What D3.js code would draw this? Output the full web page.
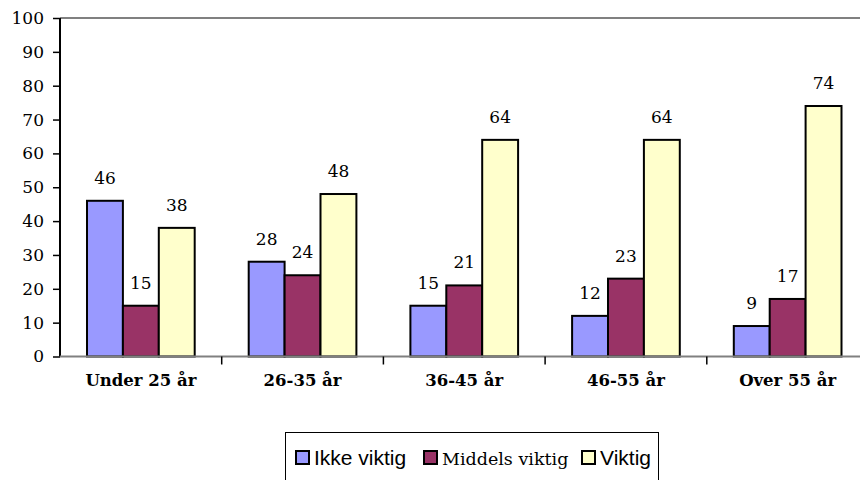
<!DOCTYPE html>
<html>
<head>
<meta charset="utf-8">
<script src="https://cdn.jsdelivr.net/npm/d3@7/dist/d3.min.js"></script>
<style>
  html, body { margin: 0; padding: 0; background: #fff; }
  svg { display: block; }
  .serif { font-family: "DejaVu Serif", "Liberation Serif", "Noto Serif", "Times New Roman", serif; }
  .sans  { font-family: "Liberation Sans", Arial, Helvetica, sans-serif; }
</style>
</head>
<body>
<svg id="chart" width="860" height="480"></svg>
<script>
// Age groups along the x axis
const categories = ["Under 25 år", "26-35 år", "36-45 år", "46-55 år", "Over 55 år"];
// Share (%) per answer, one array per series
const ikkeViktig    = [46, 28, 15, 12, 9];
const middelsViktig = [15, 24, 21, 23, 17];
const viktig        = [38, 48, 64, 64, 74];
const seriesNames   = ["Ikke viktig", "Middels viktig", "Viktig"];
const yTicks        = [0, 10, 20, 30, 40, 50, 60, 70, 80, 90, 100];

const seriesValues = [ikkeViktig, middelsViktig, viktig];
const colors = ["#9999FF", "#993366", "#FFFFCC"];
const legendClass = ["sans", "serif", "sans"];

const svg = d3.select("#chart");
const plotLeft = 60, plotRight = 868.5, plotTop = 18, plotBottom = 356.5;

const x = d3.scaleBand().domain(categories).range([plotLeft, plotRight])
  .paddingInner(0.334).paddingOuter(0.167);
const xs = d3.scaleBand().domain(d3.range(seriesNames.length)).range([0, x.bandwidth()]);
const y = d3.scaleLinear().domain([0, 100]).range([plotBottom, plotTop]);

// Plot frame (top edge)
svg.append("line")
  .attr("x1", plotLeft).attr("x2", 860).attr("y1", plotTop).attr("y2", plotTop)
  .attr("stroke", "#808080").attr("stroke-width", 2);

// Bars
const groups = svg.append("g").selectAll("g")
  .data(categories).join("g")
  .attr("transform", d => `translate(${x(d)},0)`);

groups.selectAll("rect")
  .data((c, i) => seriesValues.map((vals, s) => ({ s, v: vals[i] })))
  .join("rect")
  .attr("x", d => xs(d.s))
  .attr("width", xs.bandwidth())
  .attr("y", d => y(d.v))
  .attr("height", d => y(0) - y(d.v))
  .attr("fill", d => colors[d.s])
  .attr("stroke", "#000")
  .attr("stroke-width", 2);

// Value labels
groups.selectAll("text")
  .data((c, i) => seriesValues.map((vals, s) => ({ s, v: vals[i] })))
  .join("text")
  .attr("class", "serif")
  .attr("x", d => xs(d.s) + xs.bandwidth() / 2)
  .attr("y", d => y(d.v) - 17)
  .attr("text-anchor", "middle")
  .style("font-size", "17px")
  .attr("fill", "#000")
  .text(d => d.v);

// Y axis
const yAxis = svg.append("g")
  .attr("transform", `translate(${plotLeft},0)`)
  .call(d3.axisLeft(y).tickValues(yTicks).tickSize(7).tickPadding(9));
yAxis.attr("font-family", null);
yAxis.select(".domain").attr("stroke", "#000").attr("stroke-width", 2)
  .attr("d", `M0,${plotTop}V${plotBottom}`);
yAxis.selectAll(".tick line").attr("stroke", "#000").attr("stroke-width", 1.5);
yAxis.selectAll("text").attr("class", "serif")
  .style("font-size", "17px").attr("fill", "#000");

// X axis
const xAxis = svg.append("g")
  .attr("transform", `translate(0,${plotBottom})`)
  .call(d3.axisBottom(x).tickSize(0).tickPadding(18));
xAxis.attr("font-family", null);
xAxis.select(".domain").attr("stroke", "#808080").attr("stroke-width", 2)
  .attr("d", `M${plotLeft},0H860`);
xAxis.selectAll("text").attr("class", "serif")
  .style("font-size", "16.5px").style("font-weight", "bold").attr("fill", "#000");

// Category separators
const step = x.step();
svg.append("g").selectAll("line")
  .data(categories.slice(1))
  .join("line")
  .attr("x1", d => x(d) - (step - x.bandwidth()) / 2)
  .attr("x2", d => x(d) - (step - x.bandwidth()) / 2)
  .attr("y1", plotBottom).attr("y2", plotBottom + 8)
  .attr("stroke", "#000").attr("stroke-width", 1.5);

// Legend
const legend = svg.append("g");
legend.append("rect")
  .attr("x", 285.5).attr("y", 432.5).attr("width", 373).attr("height", 70)
  .attr("fill", "#fff").attr("stroke", "#000").attr("stroke-width", 1);
const legendX = [296, 424, 582];
const items = legend.selectAll("g.item")
  .data(seriesNames).join("g").attr("class", "item")
  .attr("transform", (d, i) => `translate(${legendX[i]},451)`);
items.append("rect")
  .attr("width", 13).attr("height", 13)
  .attr("fill", (d, i) => colors[i])
  .attr("stroke", "#000").attr("stroke-width", 2);
items.append("text")
  .attr("class", (d, i) => legendClass[i])
  .attr("x", 18).attr("y", 14)
  .style("font-size", (d, i) => legendClass[i] === "serif" ? "17.5px" : "21px")
  .attr("fill", "#000")
  .text(d => d);
</script>
</body>
</html>
